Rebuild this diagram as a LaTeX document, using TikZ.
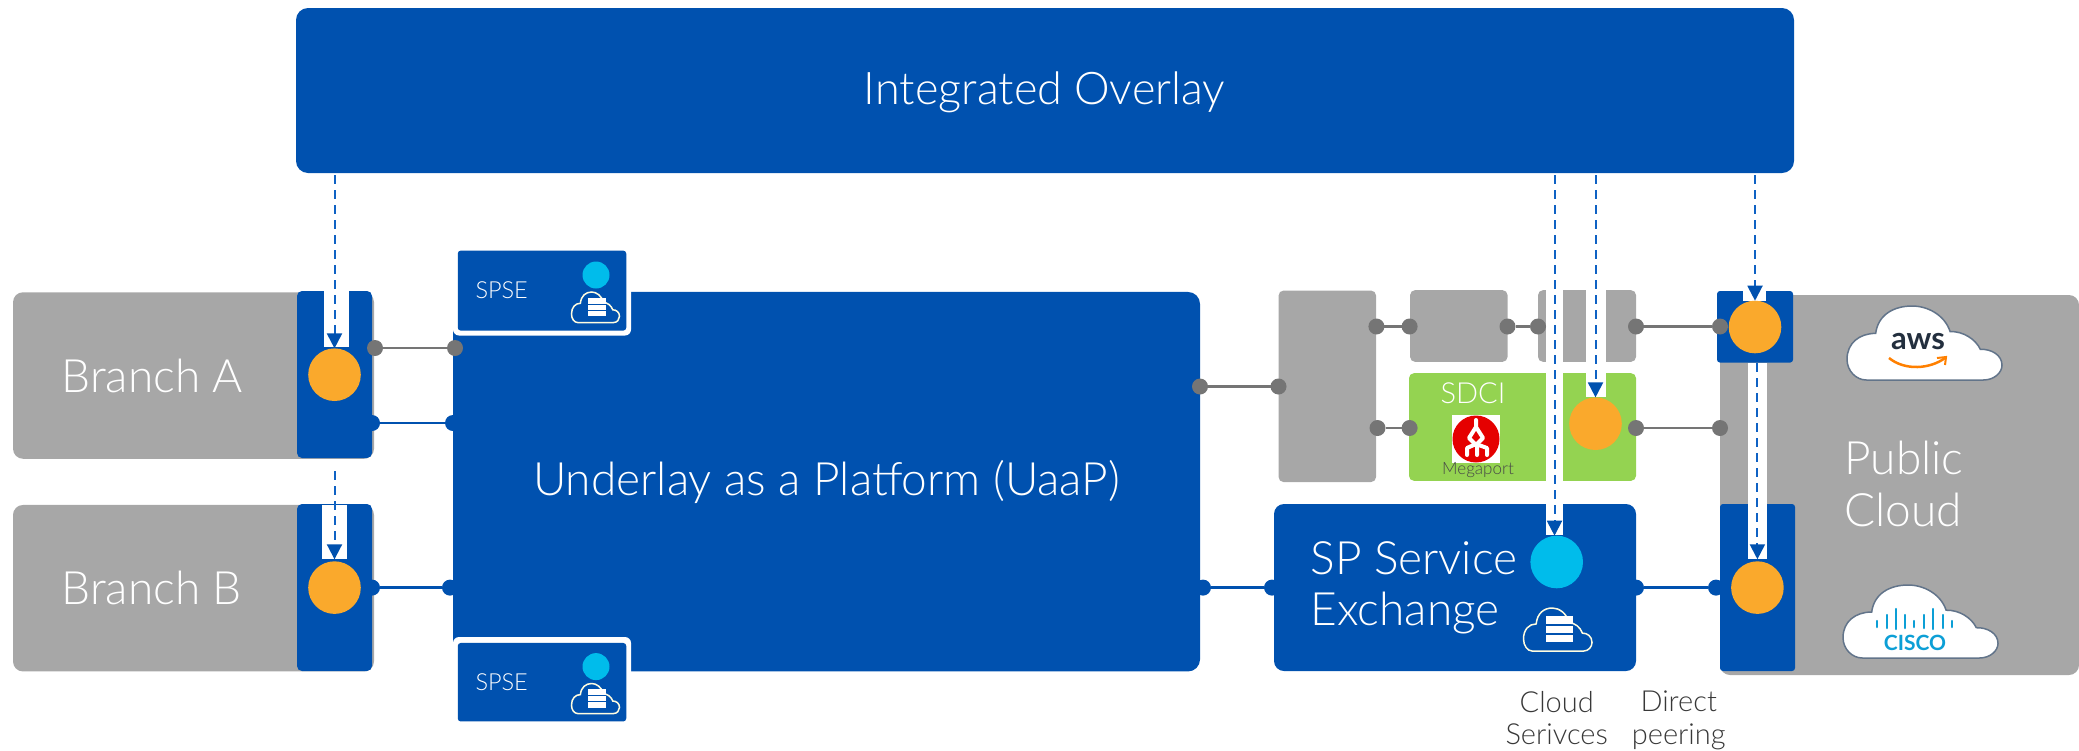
\documentclass[tikz,border=0pt]{standalone}
\usepackage{fontspec}
\setmainfont{Lato}[UprightFont=* Light, BoldFont=* Bold]
\usetikzlibrary{arrows.meta}

\definecolor{ciscoblue}{HTML}{0051AF}
\definecolor{dashblue}{HTML}{0F62C4}
\definecolor{tilegrey}{HTML}{A7A7A7}
\definecolor{dotgrey}{HTML}{757575}
\definecolor{sdcigreen}{HTML}{94D351}
\definecolor{edgeorange}{HTML}{FAA92C}
\definecolor{svccyan}{HTML}{00BCEB}
\definecolor{cloudedge}{HTML}{62748A}
\definecolor{logocyan}{HTML}{0C9FD6}
\definecolor{awsnavy}{HTML}{232F3E}

\tikzstyle{box} = [rectangle, inner sep=0pt, outer sep=0pt, rounded corners=5pt]
\tikzstyle{box-blue} = [box, fill=ciscoblue]
\tikzstyle{box-grey} = [box, fill=tilegrey]
\tikzstyle{box-green} = [box, fill=sdcigreen]
\tikzstyle{slot} = [rectangle, inner sep=0pt, outer sep=0pt, fill=white]
\tikzstyle{circ} = [circle, inner sep=0pt, outer sep=0pt, minimum size=52.6pt]
\tikzstyle{circ-orange} = [circ, fill=edgeorange]
\tikzstyle{circ-cyan} = [circ, fill=svccyan]
\tikzstyle{dot-grey} = [circle, inner sep=0pt, outer sep=0pt, minimum size=16pt, fill=dotgrey]
\tikzstyle{dot-blue} = [circle, inner sep=0pt, outer sep=0pt, minimum size=16pt, fill=ciscoblue]
\tikzstyle{txt} = [inner sep=0pt, outer sep=0pt, text=white]
\tikzstyle{txt-big} = [txt, font=\fontsize{46}{51.5}\selectfont, align=left]
\tikzstyle{txt-small} = [txt, font=\fontsize{23.5}{28}\selectfont]
\tikzstyle{txt-note} = [inner sep=0pt, outer sep=0pt, text=black!78, align=center, font=\fontsize{29}{32.5}\selectfont]
\tikzstyle{line-grey} = [draw=dotgrey, line width=2.5pt]
\tikzstyle{line-blue} = [draw=ciscoblue, line width=2.5pt]
\tikzstyle{arrow} = [draw=dashblue, line width=2pt, dash pattern=on 9pt off 6pt, -{Triangle[width=15pt,length=15pt,color=ciscoblue]}]

\tikzset{
  cloud-line/.pic={
    \path [pic actions] (0.125,1) -- (0.88,1) .. controls (0.95,1) and (1,0.9) .. (1,0.8)
      .. controls (1,0.66) and (0.93,0.58) .. (0.86,0.585)
      .. controls (0.83,0.45) and (0.75,0.34) .. (0.665,0.345)
      .. controls (0.63,0.12) and (0.52,0) .. (0.42,0)
      .. controls (0.3,0) and (0.2,0.12) .. (0.185,0.37)
      .. controls (0.08,0.37) and (0,0.5) .. (0,0.72)
      .. controls (0,0.88) and (0.06,1) .. (0.125,1) -- cycle;
  },
  cloud-server/.pic={
    \path [draw=white!88!yellow, line width=1.5pt] (0.125,1) -- (0.88,1) .. controls (0.95,1) and (1,0.9) .. (1,0.8)
      .. controls (1,0.66) and (0.93,0.58) .. (0.86,0.585)
      .. controls (0.83,0.45) and (0.75,0.34) .. (0.665,0.345)
      .. controls (0.63,0.12) and (0.52,0) .. (0.42,0)
      .. controls (0.3,0) and (0.2,0.12) .. (0.185,0.37)
      .. controls (0.08,0.37) and (0,0.5) .. (0,0.72)
      .. controls (0,0.88) and (0.06,1) .. (0.125,1) -- cycle;
    \fill [white] (0.335,0.19) rectangle (0.72,0.38);
    \fill [white] (0.335,0.42) rectangle (0.72,0.58);
    \fill [white] (0.335,0.62) rectangle (0.72,0.8);
  }
}

\begin{document}
\begin{tikzpicture}[x=1pt,y=-1pt]
  \useasboundingbox (0,0) rectangle (2079,750);

  % top bar and big platform
  \node (overlay) [box-blue, minimum width=1498pt, minimum height=165pt, rounded corners=12pt] at (1045,90.5) {};
  \node (overlay_txt) [txt, font=\fontsize{45}{50}\selectfont] at (1044.5,92) {Integrated Overlay};
  \node (uaap) [box-blue, minimum width=747pt, minimum height=379.5pt, rounded corners=12pt] at (826.5,481.7) {};
  \node (uaap_txt) [txt, font=\fontsize{46}{50}\selectfont] at (826.5,482) {Underlay as a Platform (UaaP)};

  % branches
  \node (branch_a) [box-grey, minimum width=361pt, minimum height=166.5pt, rounded corners=10pt] at (193.5,375.5) {};
  \node (branch_a_txt) [txt-big, anchor=west] at (61.5,375.5) {Branch A};
  \node (tile_a) [box-blue, minimum width=75pt, minimum height=167pt] at (334.5,374.5) {};
  \node (branch_b) [box-grey, minimum width=361pt, minimum height=166.5pt, rounded corners=10pt] at (193.5,588.2) {};
  \node (branch_b_txt) [txt-big, anchor=west] at (61.5,588.2) {Branch B};
  \node (tile_b) [box-blue, minimum width=75pt, minimum height=167pt] at (334.5,587.5) {};
  \node (slot_a) [slot, minimum width=25pt, minimum height=56pt] at (336.5,319) {};
  \node (slot_b) [slot, minimum width=25pt, minimum height=54pt] at (334.5,532) {};
  \node (edge_a) [circ-orange] at (334.5,374.7) {};
  \node (edge_b) [circ-orange] at (334.5,587.6) {};

  % spse boxes
  \node (spse_top_frame) [slot, rounded corners=6pt, minimum width=178pt, minimum height=90pt] at (542,290.5) {};
  \node (spse_top) [box-blue, rounded corners=3pt, minimum width=168.5pt, minimum height=80pt] at (542,290.6) {};
  \node (spse_top_txt) [txt-small, anchor=west] at (475.5,290) {SPSE};
  \node (spse_top_svc) [circ-cyan, minimum size=27pt] at (596,275) {};
  \pic [xscale=48, yscale=30.5] at (571.5,292) {cloud-server};
  \node (spse_bot_frame) [slot, rounded corners=6pt, minimum width=178pt, minimum height=90pt] at (542,682) {};
  \node (spse_bot) [box-blue, rounded corners=3pt, minimum width=168.5pt, minimum height=78.5pt] at (542,682.2) {};
  \node (spse_bot_txt) [txt-small, anchor=west] at (475.5,682) {SPSE};
  \node (spse_bot_svc) [circ-cyan, minimum size=27pt] at (596,666.6) {};
  \pic [xscale=48, yscale=30] at (571.5,683.5) {cloud-server};

  % middle tiles
  \node (mid_tall) [box-grey, minimum width=97.5pt, minimum height=191.5pt] at (1327.3,386.3) {};
  \node (mid_top) [box-grey, minimum width=97.5pt, minimum height=71.7pt] at (1458.8,326) {};
  \node (mid_right) [box-grey, minimum width=98pt, minimum height=71.7pt] at (1587,326) {};
  \node (sdci) [box-green, minimum width=227pt, minimum height=107.7pt] at (1522.5,427) {};
  \node (sdci_txt) [txt, font=\fontsize{29}{32}\selectfont] at (1473,393) {SDCI};
  \node (logo_back) [slot, minimum width=48pt, minimum height=48pt] at (1476,439) {};
  \node (logo_red) [circle, inner sep=0pt, fill=red!90!black, minimum size=47pt] at (1476,439) {};
  \draw [white, line width=4pt, line cap=round, line join=round] (1476,420) -- (1476,427) -- (1469,438) -- (1476,445) -- (1483,438) -- (1476,427);
  \draw [white, line width=4pt, line cap=round, line join=round] (1467,455) -- (1467,448) -- (1476,444) -- (1487,448) -- (1487,455) (1477,445) -- (1477,455);
  \node (megaport_txt) [inner sep=0pt, text=black!72, font=\fontsize{17}{19}\selectfont] at (1478,470) {Megaport};
  \node (spx) [box-blue, minimum width=362pt, minimum height=167pt, rounded corners=10pt] at (1455,587.5) {};
  \node (spx_txt) [txt-big, anchor=west] at (1310.5,588) {SP Service\\Exchange};
  \pic [xscale=68.5, yscale=43] at (1523.5,608) {cloud-server};

  % public cloud
  \node (public) [box-grey, minimum width=359pt, minimum height=380pt, rounded corners=10pt] at (1899.5,485) {};
  \node (public_txt) [txt-big, anchor=west] at (1844.5,484) {Public\\Cloud};
  \node (tile_c) [box-blue, rounded corners=3pt, minimum width=76pt, minimum height=71.6pt] at (1755,326.8) {};
  \node (tile_d) [box-blue, rounded corners=3pt, minimum width=75pt, minimum height=167pt] at (1757.5,587.5) {};

  % white gaps behind the dashed lines
  \node (slot_c) [slot, minimum width=17pt, minimum height=250pt] at (1554.5,410) {};
  \node (slot_d) [slot, minimum width=20pt, minimum height=112pt] at (1596,341) {};
  \node (slot_e) [slot, minimum width=23pt, minimum height=10pt] at (1754.5,295.8) {};
  \node (slot_f) [slot, minimum width=19pt, minimum height=196.5pt] at (1757.5,460.8) {};
  \node (edge_c) [circ-orange] at (1755,327) {};
  \node (edge_d) [circ-orange] at (1757.4,587.6) {};
  \node (edge_sdci) [circ-orange] at (1595.5,423.7) {};
  \node (svc_spx) [circ-cyan] at (1556.7,562) {};

  % provider clouds
  \pic [draw=cloudedge, fill=white, line width=1.5pt, xscale=155, yscale=74] at (1847,306) {cloud-line};
  \node (aws_txt) [inner sep=0pt, text=awsnavy, font=\fontsize{31}{36}\selectfont\bfseries] at (1918,342) {aws};
  \draw [draw=orange, line width=2.5pt] (1889,358) .. controls (1905,371) and (1930,369) .. (1945,358);
  \draw [draw=orange, line width=2pt] (1937,358) -- (1946,357) -- (1945,365);
  \pic [draw=cloudedge, fill=white, line width=1.5pt, xscale=155, yscale=73] at (1843,585) {cloud-line};
  \foreach \xpos/\ytop/\ybot in {1877/621/627, 1887/615/628, 1896/609/629, 1905/615/628, 1914/621/627, 1924/615/628, 1933/609/629, 1943/615/628, 1952/621/627}
    \draw [logocyan, line width=2.5pt, line cap=round] (\xpos,\ytop) -- (\xpos,\ybot);
  \node (cisco_txt) [inner sep=0pt, text=logocyan, font=\fontsize{21}{24}\selectfont\bfseries] at (1915,643) {CISCO};

  % bottom notes
  \node (note_cloud) [txt-note, anchor=north] at (1556.7,691) {Cloud\\Serivces};
  \node (note_peer) [txt-note, anchor=north] at (1678.7,691) {Direct\\peering};

  % connection dots
  \node (d_a1) [dot-grey] at (375,348) {};
  \node (d_a2) [dot-grey] at (455,348) {};
  \node (d_a3) [dot-blue] at (372,423) {};
  \node (d_a4) [dot-blue] at (453,423) {};
  \node (d_b1) [dot-blue] at (372,587.6) {};
  \node (d_b2) [dot-blue] at (450,587.6) {};
  \node (d_u1) [dot-grey] at (1200,386.5) {};
  \node (d_u2) [dot-grey] at (1278.5,386.5) {};
  \node (d_u3) [dot-blue] at (1203,587.6) {};
  \node (d_u4) [dot-blue] at (1272,587.6) {};
  \node (d_m1) [dot-grey] at (1376.4,326.5) {};
  \node (d_m2) [dot-grey] at (1409.6,326.5) {};
  \node (d_m3) [dot-grey] at (1507.5,326.5) {};
  \node (d_m4) [dot-grey] at (1538,326.5) {};
  \node (d_m5) [dot-grey] at (1636,326.5) {};
  \node (d_m6) [dot-grey] at (1720,326.5) {};
  \node (d_s1) [dot-grey] at (1377.5,428) {};
  \node (d_s2) [dot-grey] at (1409.6,428) {};
  \node (d_s3) [dot-grey] at (1636,428) {};
  \node (d_s4) [dot-grey] at (1720,428) {};
  \node (d_x1) [dot-blue] at (1636,587.6) {};
  \node (d_x2) [dot-blue] at (1716,587.6) {};

  % start points of the dashed lines
  \coordinate (ov_a) at (334.5,175);
  \coordinate (ov_b) at (334.5,471);
  \coordinate (ov_c) at (1554.5,175);
  \coordinate (ov_d) at (1595.5,175);
  \coordinate (ov_e) at (1755,175);
  \coordinate (ov_f) at (1757.4,363);

  \draw [line-grey] (d_a1) -- (d_a2);
  \draw [line-blue] (d_a3) -- (d_a4);
  \draw [line-blue] (d_b1) -- (d_b2);
  \draw [line-grey] (d_u1) -- (d_u2);
  \draw [line-blue] (d_u3) -- (d_u4);
  \draw [line-grey] (d_m1) -- (d_m2);
  \draw [line-grey] (d_m3) -- (d_m4);
  \draw [line-grey] (d_m5) -- (d_m6);
  \draw [line-grey] (d_s1) -- (d_s2);
  \draw [line-grey] (d_s3) -- (d_s4);
  \draw [line-blue] (d_x1) -- (d_x2);

  \draw [arrow] (ov_a) -- (edge_a);
  \draw [arrow, shorten >=2pt] (ov_b) -- (edge_b);
  \draw [arrow] (ov_c) -- (ov_c |- svc_spx.north);
  \draw [arrow] (ov_d) -- (edge_sdci);
  \draw [arrow] (ov_e) -- (edge_c);
  \draw [arrow, shorten >=2pt] (ov_f) -- (edge_d);
\end{tikzpicture}
\end{document}
